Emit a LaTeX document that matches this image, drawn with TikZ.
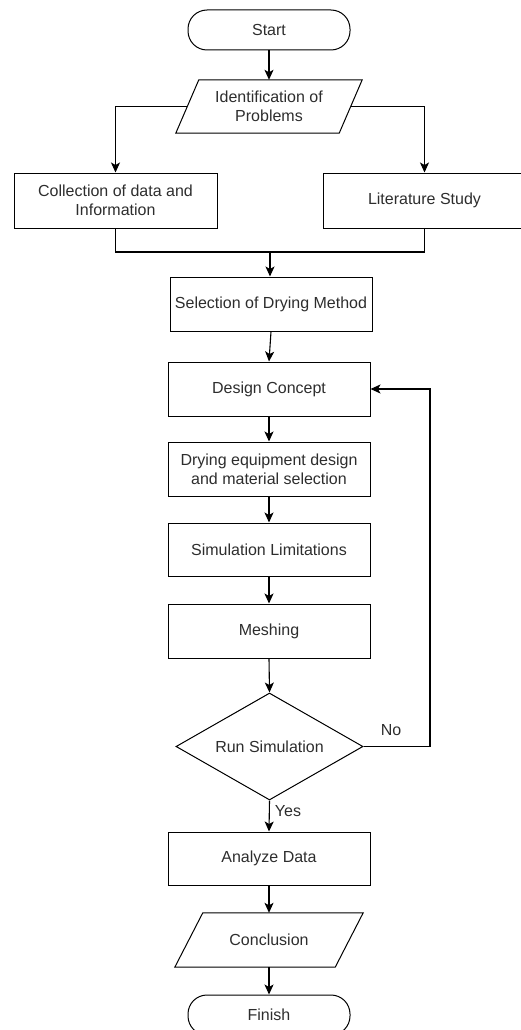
\documentclass[tikz,border=0pt]{standalone}
\usepackage{fontspec}
\setmainfont{Liberation Sans}
\usetikzlibrary{shapes.geometric,arrows.meta}
\definecolor{txtc}{RGB}{45,45,45}
\begin{document}
\begin{tikzpicture}[x=1pt,y=-1pt,
  every node/.style={font=\fontsize{16}{19.2}\selectfont, text=txtc},
  box/.style={draw, line width=1pt, minimum width=202pt, minimum height=54pt, inner sep=0pt, align=center},
  term/.style={draw, line width=1pt, rounded corners=19pt, minimum width=162pt, minimum height=40pt, inner sep=0pt},
  para/.style={inner sep=0pt, align=center},
  paraline/.style={line width=1pt, line join=miter},
  dec/.style={draw, line width=1pt, shape=diamond, aspect=1.75, inner sep=0pt, minimum width=187pt, minimum height=107pt},
  conn/.style={line width=1.1pt},
  arr/.style={line width=1.1pt, -{Stealth[length=10pt,width=9pt,inset=2.5pt]}},
  lbl/.style={inner sep=0pt}]
\useasboundingbox (0,0) rectangle (520,1030);

\node[term] (start) at (269,30) {Start};
\node[para, minimum width=186pt, minimum height=53pt] (id) at (269,106.5) {Identification of\\Problems};
\draw[paraline] ([xshift=23pt]id.north west) -- (id.north east) -- ([xshift=-23pt]id.south east) -- (id.south west) -- cycle;

\node[box, minimum width=203pt, minimum height=55pt] (col) at (115.5,200.5) {Collection of data and\\Information};
\node[box, minimum width=203pt, minimum height=55pt] (lit) at (424.5,200.5) {Literature Study};

\node[box] (sel) at (271,304) {Selection of Drying Method};
\node[box] (dc) at (269,389) {Design Concept};
\node[box] (dry) at (269,469) {Drying equipment design\\and material selection};
\node[box, minimum height=53pt] (sim) at (269,549.5) {Simulation Limitations};
\node[box] (mesh) at (269,631) {Meshing};
\node[dec] (run) at (269.5,746.5) {Run Simulation};
\node[box, minimum height=53pt] (an) at (269,858.5) {Analyze Data};
\node[para, minimum width=188pt, minimum height=54pt] (conc) at (269,940) {Conclusion};
\draw[paraline] ([xshift=28pt]conc.north west) -- (conc.north east) -- ([xshift=-28pt]conc.south east) -- (conc.south west) -- cycle;
\node[term] (fin) at (269,1015) {Finish};

\coordinate (m) at (270,252);
\coordinate (loop) at (430,746.5);

\draw[arr] (start) -- (id.north);
\draw[arr] ([xshift=11.5pt]id.west) -| (col.north);
\draw[arr] ([xshift=-11.5pt]id.east) -| (lit.north);
\draw[conn] (col.south) |- (m) -| (lit.south);
\draw[arr] (m) -- (sel.north -| m);
\draw[arr] (sel.south) -- (dc.north);
\draw[arr] (dc) -- (dry);
\draw[arr] (dry) -- (sim);
\draw[arr] (sim) -- (mesh);
\draw[arr] (mesh.south) -- (run.north);
\draw[arr] (run.east) -- (loop) |- (dc.east);
\draw[arr] (run.south) -- (an.north);
\draw[arr] (an.south) -- (conc.north);
\draw[arr] (conc.south) -- (fin.north);

\node[lbl] (no) at (391,730) {No};
\node[lbl] (yes) at (288,811) {Yes};
\end{tikzpicture}
\end{document}
